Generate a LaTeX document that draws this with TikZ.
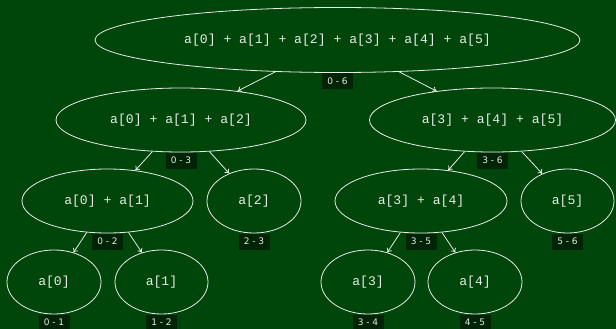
\documentclass[tikz,border=0pt]{standalone}
\usepackage{fontspec}
\setmonofont{Liberation Mono}
\setsansfont{DejaVu Sans}
\usetikzlibrary{shapes.geometric,arrows.meta}
\definecolor{bggreen}{RGB}{0,69,9}
\definecolor{lblbg}{RGB}{0,36,5}
\definecolor{fg}{RGB}{232,236,230}
\begin{document}
\begin{tikzpicture}[x=1pt,y=-1pt,
  nd/.style={ellipse,draw=fg,line width=0.8pt,text=fg,inner sep=0pt,font=\ttfamily\fontsize{13.1}{14}\selectfont},
  lbl/.style={fill=lblbg,text=fg,inner sep=0pt,minimum width=31pt,minimum height=16pt,font=\sffamily\fontsize{9}{10}\selectfont,anchor=north},
  edge/.style={draw=fg,line width=0.8pt,-{To[length=4pt,width=6pt]}}]
\fill[bggreen] (0,0) rectangle (616,329);
\useasboundingbox (0,0) rectangle (616,329);

\node[nd,minimum width=485pt,minimum height=65pt] (r) at (337.5,40) {a[0] + a[1] + a[2] + a[3] + a[4] + a[5]};
\node[nd,minimum width=250pt,minimum height=64pt] (l) at (181,120) {a[0] + a[1] + a[2]};
\node[nd,minimum width=246pt,minimum height=64pt] (rr) at (492.5,120) {a[3] + a[4] + a[5]};
\node[nd,minimum width=171pt,minimum height=64pt] (ll) at (107.5,201) {a[0] + a[1]};
\node[nd,minimum width=94pt,minimum height=64pt] (lr) at (254,201) {a[2]};
\node[nd,minimum width=172pt,minimum height=64pt] (rl) at (421,201) {a[3] + a[4]};
\node[nd,minimum width=93pt,minimum height=64pt] (r5) at (567.5,201) {a[5]};
\node[nd,minimum width=94pt,minimum height=64pt] (a0) at (54,282) {a[0]};
\node[nd,minimum width=93pt,minimum height=64pt] (a1) at (161.5,282) {a[1]};
\node[nd,minimum width=94pt,minimum height=64pt] (a3) at (368,282) {a[3]};
\node[nd,minimum width=94pt,minimum height=64pt] (a4) at (475,282) {a[4]};

\node[lbl] (t06) at (r.south) {0 - 6};
\node[lbl] (t03) at (l.south) {0 - 3};
\node[lbl] (t36) at (rr.south) {3 - 6};
\node[lbl] (t02) at (ll.south) {0 - 2};
\node[lbl] (t23) at (lr.south) {2 - 3};
\node[lbl] (t35) at (rl.south) {3 - 5};
\node[lbl] (t56) at (r5.south) {5 - 6};
\node[lbl] (t01) at (a0.south) {0 - 1};
\node[lbl] (t12) at (a1.south) {1 - 2};
\node[lbl] (t34) at (a3.south) {3 - 4};
\node[lbl] (t45) at (a4.south) {4 - 5};

\draw[edge] (r) -- (l);
\draw[edge] (r) -- (rr);
\draw[edge] (l) -- (ll);
\draw[edge] (l) -- (lr);
\draw[edge] (rr) -- (rl);
\draw[edge] (rr) -- (r5);
\draw[edge] (ll) -- (a0);
\draw[edge] (ll) -- (a1);
\draw[edge] (rl) -- (a3);
\draw[edge] (rl) -- (a4);
\end{tikzpicture}
\end{document}
